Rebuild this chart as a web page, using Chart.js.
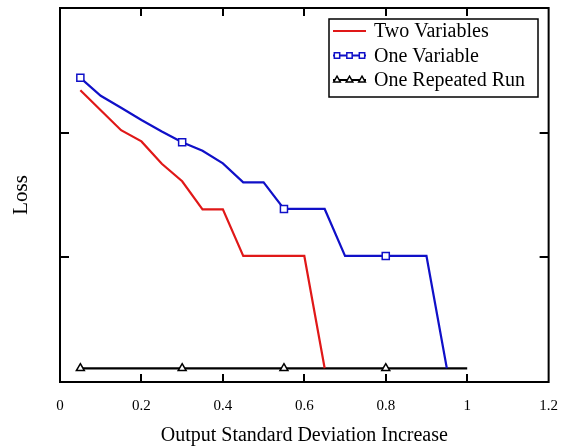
<!DOCTYPE html>
<html>
<head>
<meta charset="utf-8">
<script src="https://cdn.jsdelivr.net/npm/chart.js@4"></script>
<style>
  body { margin: 0; background: #fff; }
  #wrap { width: 565px; height: 448px; }
</style>
</head>
<body>
<div id="wrap"><canvas id="myChart"></canvas></div>
<script>
const xTicks = [0, 0.2, 0.4, 0.6, 0.8, 1, 1.2];
const yTicks = [1, 2];

const twoX = [0.05, 0.1, 0.15, 0.2, 0.25, 0.3, 0.35, 0.4, 0.45, 0.5, 0.55, 0.6, 0.65];
const twoY = [2.34, 2.18, 2.02, 1.93, 1.75, 1.61, 1.385, 1.385, 1.011, 1.011, 1.011, 1.011, 0.11];

const oneX = [0.05, 0.1, 0.15, 0.2, 0.25, 0.3, 0.35, 0.4, 0.45, 0.5, 0.55, 0.6, 0.65, 0.7, 0.75, 0.8, 0.85, 0.9, 0.95];
const oneY = [2.44, 2.296, 2.2, 2.102, 2.01, 1.923, 1.855, 1.754, 1.602, 1.602, 1.388, 1.388, 1.388, 1.011, 1.011, 1.011, 1.011, 1.011, 0.11];

const runX = [0.05, 0.1, 0.15, 0.2, 0.25, 0.3, 0.35, 0.4, 0.45, 0.5, 0.55, 0.6, 0.65, 0.7, 0.75, 0.8, 0.85, 0.9, 0.95, 1];
const runY = [0.11, 0.11, 0.11, 0.11, 0.11, 0.11, 0.11, 0.11, 0.11, 0.11, 0.11, 0.11, 0.11, 0.11, 0.11, 0.11, 0.11, 0.11, 0.11, 0.11];

const labels = ['Two Variables', 'One Variable', 'One Repeated Run'];

const serif = '"Liberation Serif", "Times New Roman", serif';
const toPoints = (xs, ys) => xs.map((x, i) => ({ x: x, y: ys[i] }));
const everyFifth = (r) => (ctx) => (ctx.dataIndex % 5 === 0 ? r : 0);

// frame with inward ticks on all four sides
const framePlugin = {
    id: 'frame',
    afterDatasetsDraw(chart) {
        const { ctx, chartArea: a, scales } = chart;
        ctx.save();
        ctx.strokeStyle = '#000';
        ctx.lineWidth = 2;
        ctx.strokeRect(a.left, a.top, a.right - a.left, a.bottom - a.top);
        ctx.beginPath();
        xTicks.slice(1, -1).forEach((v) => {
            const px = Math.round(scales.x.getPixelForValue(v));
            ctx.moveTo(px, a.bottom); ctx.lineTo(px, a.bottom - 8);
            ctx.moveTo(px, a.top); ctx.lineTo(px, a.top + 8);
        });
        yTicks.forEach((v) => {
            const py = Math.round(scales.y.getPixelForValue(v));
            ctx.moveTo(a.left, py); ctx.lineTo(a.left + 9, py);
            ctx.moveTo(a.right, py); ctx.lineTo(a.right - 9, py);
        });
        ctx.stroke();
        ctx.restore();
    }
};

// boxed legend in the top right corner, three markers per sample
const legendPlugin = {
    id: 'boxLegend',
    afterDraw(chart) {
        const ctx = chart.ctx;
        const box = { left: 329, top: 19, right: 538, bottom: 97 };
        ctx.save();
        ctx.fillStyle = '#fff';
        ctx.fillRect(box.left, box.top, box.right - box.left, box.bottom - box.top);
        ctx.strokeStyle = '#000';
        ctx.lineWidth = 1.5;
        ctx.strokeRect(box.left, box.top, box.right - box.left, box.bottom - box.top);
        chart.data.datasets.forEach((ds, i) => {
            const y = 31 + i * 24.5;
            ctx.strokeStyle = ds.borderColor;
            ctx.lineWidth = 2;
            ctx.beginPath();
            ctx.moveTo(333, y); ctx.lineTo(366, y);
            ctx.stroke();
            if (ds.pointStyle !== false) {
                [337, 349.5, 362].forEach((mx) => {
                    ctx.fillStyle = '#fff';
                    ctx.strokeStyle = ds.borderColor;
                    ctx.lineWidth = 1.5;
                    Chart.helpers.drawPoint(ctx, {
                        pointStyle: ds.pointStyle, radius: 3.8, borderWidth: 1.5
                    }, mx, y);
                });
            }
            ctx.fillStyle = '#000';
            ctx.font = '20px ' + serif;
            ctx.textBaseline = 'middle';
            ctx.textAlign = 'left';
            ctx.fillText(ds.label, 374, y + 1);
        });
        ctx.restore();
    }
};

new Chart(document.getElementById('myChart'), {
    type: 'line',
    data: {
        datasets: [
            {
                label: labels[0],
                data: toPoints(twoX, twoY),
                borderColor: '#e01818',
                borderWidth: 2.2,
                pointRadius: 0,
                pointStyle: false,
                fill: false
            },
            {
                label: labels[1],
                data: toPoints(oneX, oneY),
                borderColor: '#1010c8',
                backgroundColor: '#fff',
                borderWidth: 2.2,
                pointStyle: 'rect',
                pointRadius: everyFifth(5),
                pointBorderWidth: 1.5,
                pointBackgroundColor: '#fff',
                fill: false
            },
            {
                label: labels[2],
                data: toPoints(runX, runY),
                borderColor: '#000',
                backgroundColor: '#fff',
                borderWidth: 2.2,
                pointStyle: 'triangle',
                pointRadius: everyFifth(4.6),
                pointBorderWidth: 1.5,
                pointBackgroundColor: '#fff',
                fill: false
            }
        ]
    },
    options: {
        responsive: true,
        maintainAspectRatio: false,
        animation: false,
        layout: { padding: { top: 8, right: 15, left: 0, bottom: 0 } },
        plugins: {
            legend: { display: false },
            tooltip: { enabled: false }
        },
        scales: {
            x: {
                type: 'linear',
                min: 0,
                max: 1.2,
                afterBuildTicks: (scale) => { scale.ticks = xTicks.map((v) => ({ value: v })); },
                afterFit: (scale) => { scale.height = 66; },
                grid: { display: false },
                border: { display: false },
                ticks: {
                    color: '#000',
                    padding: 7,
                    maxRotation: 0,
                    font: { family: serif, size: 15 },
                    callback: (value) => String(Math.round(value * 10) / 10)
                },
                title: {
                    display: true,
                    text: 'Output Standard Deviation Increase',
                    color: '#000',
                    font: { family: serif, size: 20 },
                    padding: { top: 0, bottom: 0 }
                }
            },
            y: {
                type: 'linear',
                min: 0,
                max: 3,
                afterFit: (scale) => { scale.width = 60; },
                grid: { display: false },
                border: { display: false },
                ticks: { display: false },
                title: {
                    display: true,
                    text: 'Loss',
                    color: '#000',
                    font: { family: serif, size: 21 },
                    padding: { top: 9, bottom: 0 }
                }
            }
        }
    },
    plugins: [framePlugin, legendPlugin]
});
</script>
</body>
</html>
